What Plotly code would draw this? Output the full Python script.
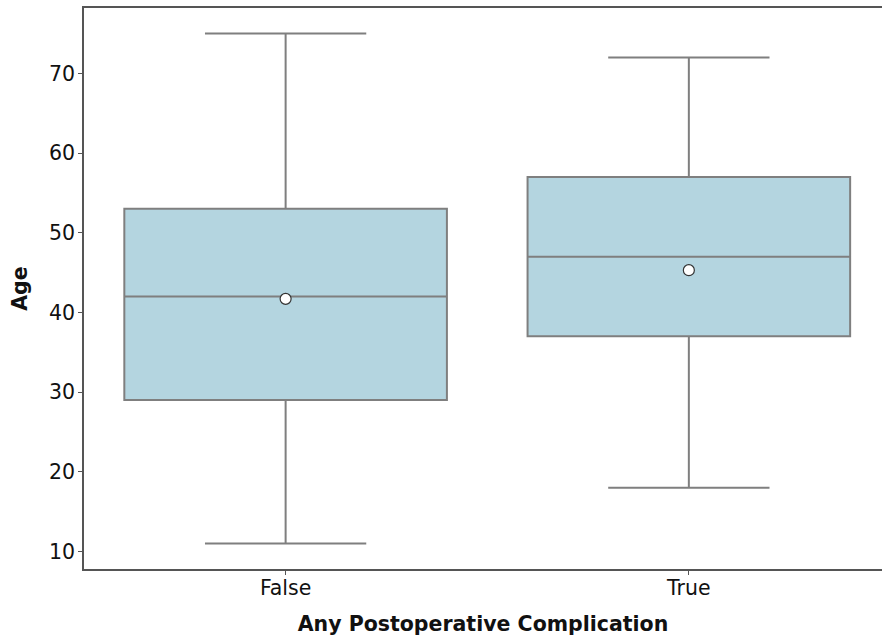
import plotly.graph_objects as go

# Summary statistics of patient age by complication status
groups = ["False", "True"]
q1 = [29, 37]
median = [42, 47]
q3 = [53, 57]
lower_whisker = [11, 18]
upper_whisker = [75, 72]
mean_age = [41.7, 45.3]

y_ticks = [10, 20, 30, 40, 50, 60, 70]

box_fill = "#b4d5e0"
line_gray = "#7f7f7f"
font_family = "DejaVu Sans"
text_size = 20.5

fig = go.Figure()

for i, g in enumerate(groups):
    fig.add_trace(go.Box(
        x=[g],
        q1=[q1[i]],
        median=[median[i]],
        q3=[q3[i]],
        lowerfence=[lower_whisker[i]],
        upperfence=[upper_whisker[i]],
        width=0.8,
        whiskerwidth=0.5,
        fillcolor=box_fill,
        line=dict(color=line_gray, width=2),
        boxpoints=False,
        showlegend=False,
        hoverinfo="skip",
    ))

fig.add_trace(go.Scatter(
    x=groups,
    y=mean_age,
    mode="markers",
    marker=dict(size=11, color="white", line=dict(color="#333333", width=1.2)),
    showlegend=False,
    hoverinfo="skip",
))

fig.update_layout(
    width=882,
    height=640,
    margin=dict(l=84, r=0, t=8, b=71),
    plot_bgcolor="white",
    paper_bgcolor="white",
    font=dict(family=font_family, size=text_size, color="#111111"),
    xaxis=dict(
        type="category",
        range=[-0.5, 1.479],
        showline=True,
        linecolor="#555555",
        linewidth=1.5,
        mirror=True,
        ticks="outside",
        ticklen=4,
        tickcolor="#555555",
        ticklabelstandoff=-4,
        showgrid=False,
        zeroline=False,
        tickfont=dict(size=text_size),
        title=dict(text="<b>Any Postoperative Complication</b>", font=dict(size=text_size), standoff=17),
    ),
    yaxis=dict(
        range=[7.8, 78.2],
        tickvals=y_ticks,
        showline=True,
        linecolor="#555555",
        linewidth=1.5,
        mirror=False,
        ticks="outside",
        ticklen=4,
        tickcolor="#555555",
        ticklabelstandoff=-1,
        showgrid=False,
        zeroline=False,
        tickfont=dict(size=text_size),
        title=dict(text="<b>Age</b>", font=dict(size=text_size), standoff=16),
    ),
)

fig.write_html("out.html")
